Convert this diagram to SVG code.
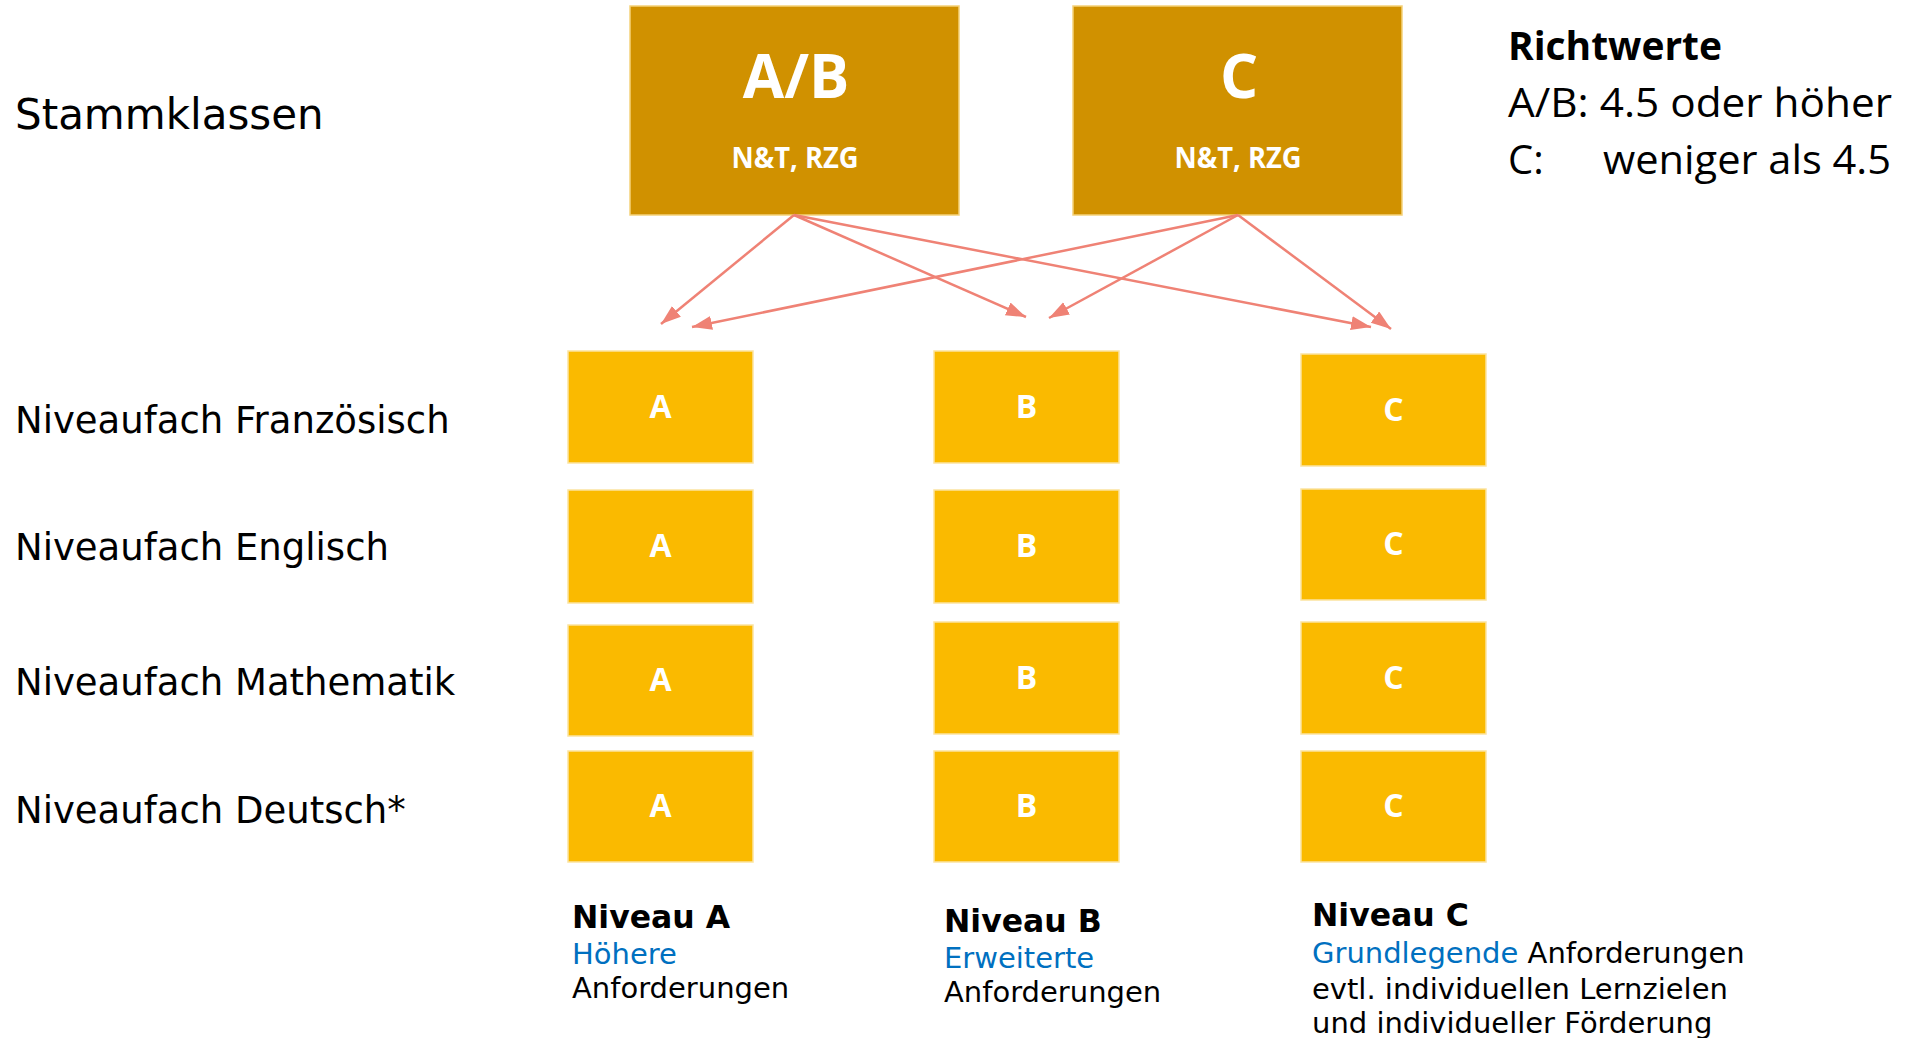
<svg xmlns="http://www.w3.org/2000/svg" width="1921" height="1038" viewBox="0 0 1921 1038">
<defs>
<style>
.big{fill:#D09100;stroke:#F5D27A;stroke-width:1.5}
.sm{fill:#FABA00;stroke:#FBE3A0;stroke-width:1.5}
.bigT{font-family:"Open Sans","Noto Sans",sans-serif;font-weight:700;fill:#fff;text-anchor:middle}
.smT{font-family:"Open Sans","Noto Sans",sans-serif;font-weight:700;font-size:32px;fill:#fff;text-anchor:middle}
.lbl{font-family:"DejaVu Sans","Verdana",sans-serif;fill:#000}
.rw{font-family:"Open Sans","Noto Sans",sans-serif;font-size:40px;fill:#000}
.body{font-family:"DejaVu Sans","Verdana",sans-serif;font-size:29px;fill:#000}
.ttl{font-family:"DejaVu Sans","Verdana",sans-serif;font-size:31.5px;font-weight:700;fill:#000}
.blue{fill:#0070C0}
.arr{stroke:#EF8275;stroke-width:2.5;fill:none;marker-end:url(#ah)}
</style>
<marker id="ah" markerUnits="userSpaceOnUse" markerWidth="22" markerHeight="16" refX="20" refY="7" orient="auto" viewBox="0 0 22 16">
<path d="M0,0 L20,7 L0,14 z" fill="#EF8275"/>
</marker>
</defs>
<rect width="1921" height="1038" fill="#fff"/>

<g id="labels">
<text class="lbl" x="15" y="129" font-size="42">Stammklassen</text>
<text class="lbl" x="15" y="433" font-size="37">Niveaufach Französisch</text>
<text class="lbl" x="15" y="560" font-size="37">Niveaufach Englisch</text>
<text class="lbl" x="15" y="695" font-size="37">Niveaufach Mathematik</text>
<text class="lbl" x="15" y="823" font-size="37">Niveaufach Deutsch*</text>
</g>

<g id="richtwerte">
<text class="rw" x="1508" y="60" font-weight="700" textLength="214" lengthAdjust="spacingAndGlyphs">Richtwerte</text>
<text class="rw" x="1508" y="117" textLength="384" lengthAdjust="spacingAndGlyphs">A/B: 4.5 oder höher</text>
<text class="rw" x="1508" y="174">C:</text>
<text class="rw" x="1603" y="174" textLength="288" lengthAdjust="spacingAndGlyphs">weniger als 4.5</text>
</g>

<g id="stamm-ab">
<rect class="big" x="630" y="6" width="329" height="209"/>
<text class="bigT" x="796" y="98" font-size="60">A/B</text>
<text class="bigT" x="795" y="168" font-size="28" textLength="127" lengthAdjust="spacingAndGlyphs">N&amp;T, RZG</text>
</g>
<g id="stamm-c">
<rect class="big" x="1073" y="6" width="329" height="209"/>
<text class="bigT" x="1239" y="98" font-size="60">C</text>
<text class="bigT" x="1238" y="168" font-size="28" textLength="127" lengthAdjust="spacingAndGlyphs">N&amp;T, RZG</text>
</g>

<g id="connectors">
<line class="arr" x1="794" y1="215" x2="661" y2="324"/>
<line class="arr" x1="794" y1="215" x2="1026" y2="317"/>
<line class="arr" x1="794" y1="215" x2="1371" y2="327"/>
<line class="arr" x1="1238" y1="215" x2="692" y2="327"/>
<line class="arr" x1="1238" y1="215" x2="1049" y2="318"/>
<line class="arr" x1="1238" y1="215" x2="1391" y2="329"/>
</g>

<g id="a-fr"><rect class="sm" x="568" y="351" width="185" height="112"/><text class="smT" x="660.5" y="418">A</text></g>
<g id="a-en"><rect class="sm" x="568" y="490" width="185" height="113"/><text class="smT" x="660.5" y="557">A</text></g>
<g id="a-ma"><rect class="sm" x="568" y="625" width="185" height="111"/><text class="smT" x="660.5" y="691">A</text></g>
<g id="a-de"><rect class="sm" x="568" y="751" width="185" height="111"/><text class="smT" x="660.5" y="817">A</text></g>

<g id="b-fr"><rect class="sm" x="934" y="351" width="185" height="112"/><text class="smT" x="1026.5" y="418">B</text></g>
<g id="b-en"><rect class="sm" x="934" y="490" width="185" height="113"/><text class="smT" x="1026.5" y="557">B</text></g>
<g id="b-ma"><rect class="sm" x="934" y="622" width="185" height="112"/><text class="smT" x="1026.5" y="689">B</text></g>
<g id="b-de"><rect class="sm" x="934" y="751" width="185" height="111"/><text class="smT" x="1026.5" y="817">B</text></g>

<g id="c-fr"><rect class="sm" x="1301" y="354" width="185" height="112"/><text class="smT" x="1393.5" y="421">C</text></g>
<g id="c-en"><rect class="sm" x="1301" y="489" width="185" height="111"/><text class="smT" x="1393.5" y="555">C</text></g>
<g id="c-ma"><rect class="sm" x="1301" y="622" width="185" height="112"/><text class="smT" x="1393.5" y="689">C</text></g>
<g id="c-de"><rect class="sm" x="1301" y="751" width="185" height="111"/><text class="smT" x="1393.5" y="817">C</text></g>

<g id="niveau-a">
<text class="ttl" x="572" y="928">Niveau A</text>
<text class="body blue" x="572" y="964">Höhere</text>
<text class="body" x="572" y="998">Anforderungen</text>
</g>
<g id="niveau-b">
<text class="ttl" x="944" y="932">Niveau B</text>
<text class="body blue" x="944" y="968">Erweiterte</text>
<text class="body" x="944" y="1002">Anforderungen</text>
</g>
<g id="niveau-c">
<text class="ttl" x="1312" y="926">Niveau C</text>
<text class="body" x="1312" y="963"><tspan class="blue">Grundlegende</tspan> Anforderungen</text>
<text class="body" x="1312" y="999">evtl. individuellen Lernzielen</text>
<text class="body" x="1312" y="1033">und individueller Förderung</text>
</g>
</svg>
